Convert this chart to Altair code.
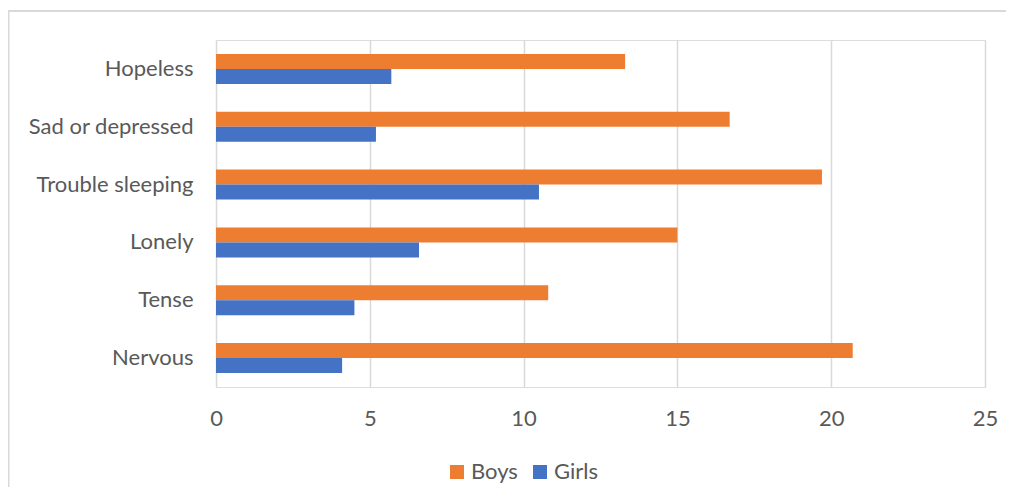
import altair as alt
import pandas as pd

categories = ["Hopeless", "Sad or depressed", "Trouble sleeping", "Lonely", "Tense", "Nervous"]
boys = [13.3, 16.7, 19.7, 15.0, 10.8, 20.7]
girls = [5.7, 5.2, 10.5, 6.6, 4.5, 4.1]
series = ["Boys", "Girls"]
colors = ["#ED7D31", "#4472C4"]
x_ticks = [0, 5, 10, 15, 20, 25]

rows = []
for c, b, g in zip(categories, boys, girls):
    rows.append({"category": c, "series": "Boys", "value": b})
    rows.append({"category": c, "series": "Girls", "value": g})
df = pd.DataFrame(rows)

FONT = "Lato"
TXT = "#595959"
FS = 22

bars = alt.Chart(df).mark_bar().encode(
    y=alt.Y("category:N", sort=categories,
            scale=alt.Scale(paddingInner=0.48, paddingOuter=0.24),
            axis=alt.Axis(title=None, domain=False, ticks=False, labelPadding=23,
                          labelFontSize=FS, labelColor=TXT, labelFont=FONT, grid=False)),
    yOffset=alt.YOffset("series:N", sort=series, scale=alt.Scale(paddingInner=0, paddingOuter=0)),
    x=alt.X("value:Q", scale=alt.Scale(domain=[0, 25], nice=False),
            axis=alt.Axis(title=None, values=x_ticks, domain=False, ticks=False, labelPadding=21,
                          labelFlush=False,
                          labelFontSize=FS, labelColor=TXT, labelFont=FONT,
                          grid=True, gridColor="#d9d9d9", gridWidth=1.5)),
    color=alt.Color("series:N", sort=series,
                    scale=alt.Scale(domain=series, range=colors),
                    legend=alt.Legend(title=None, orient="none", legendX=230, legendY=421,
                                      direction="horizontal", symbolType="square",
                                      symbolSize=196, symbolStrokeWidth=0, labelFontSize=FS,
                                      labelColor=TXT, labelFont=FONT, labelOffset=3,
                                      columnPadding=11, padding=0)),
)

frame_top = alt.Chart(alt.Data(values=[{}])).mark_rule(
    stroke="#d9d9d9", strokeWidth=2
).encode(x=alt.value(-208), x2=alt.value(900), y=alt.value(-29), y2=alt.value(-29))

frame_left = alt.Chart(alt.Data(values=[{}])).mark_rule(
    stroke="#d9d9d9", strokeWidth=2
).encode(x=alt.value(-207.5), x2=alt.value(-207.5), y=alt.value(-30), y2=alt.value(500))

chart = alt.layer(frame_top, frame_left, bars).properties(
    width=769, height=347,
    autosize=alt.AutoSizeParams(type="none"),
    padding={"left": 208, "top": 32, "right": 21, "bottom": 100},
).configure_view(strokeWidth=0, stroke="transparent").configure(background="white")

chart.save("out.html", embed_options={"renderer": "svg", "actions": False})
